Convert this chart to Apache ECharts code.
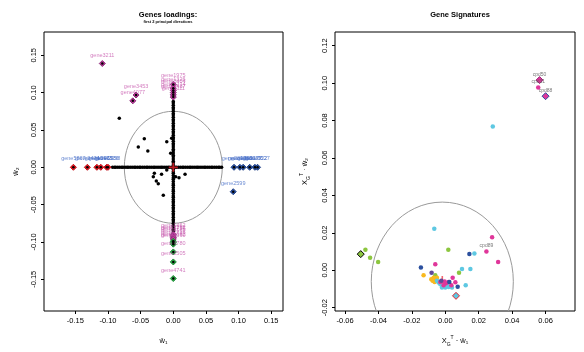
<!DOCTYPE html>
<html><head><meta charset="utf-8">
<script src="https://cdn.jsdelivr.net/npm/echarts@6/dist/echarts.min.js"></script>
<style>html,body{margin:0;padding:0;background:#fff}#c{width:584px;height:352px}</style>
</head><body><div id="c"></div>
<script>
// ---------- tick labels ----------
const leftXTicks = [-0.15, -0.10, -0.05, 0.00, 0.05, 0.10, 0.15];
const leftYTicks = [-0.15, -0.10, -0.05, 0.00, 0.05, 0.10, 0.15];
const rightXTicks = [-0.06, -0.04, -0.02, 0.00, 0.02, 0.04, 0.06];
const rightYTicks = [-0.02, 0.00, 0.02, 0.04, 0.06, 0.08, 0.10, 0.12];

// ---------- left panel: gene loadings ----------
// genes with zero second loading (lying on the horizontal axis): first loading values
const onAxisW1 = [-0.093,-0.090,-0.088,-0.085,-0.082,-0.079,-0.077,-0.074,-0.071,-0.069,-0.066,-0.063,-0.060,-0.058,-0.055,-0.052,-0.050,-0.047,-0.044,-0.041,-0.039,-0.036,-0.033,-0.030,-0.028,-0.025,-0.022,-0.019,-0.017,-0.014,-0.011,-0.008,-0.006,-0.003,0.000,0.003,0.005,0.008,0.011,0.014,0.016,0.019,0.022,0.025,0.027,0.030,0.033,0.036,0.038,0.041,0.044,0.047,0.049,0.052,0.055,0.058,0.060,0.063,0.066,0.069,0.071,0.074];
// genes with zero first loading (lying on the vertical axis): second loading values
const onAxisW2 = [-0.088,-0.085,-0.083,-0.080,-0.078,-0.075,-0.072,-0.070,-0.067,-0.064,-0.062,-0.059,-0.056,-0.054,-0.051,-0.048,-0.046,-0.043,-0.040,-0.038,-0.035,-0.032,-0.030,-0.027,-0.024,-0.022,-0.019,-0.016,-0.014,-0.011,-0.008,-0.006,-0.003,0.003,0.006,0.008,0.011,0.014,0.016,0.019,0.022,0.024,0.027,0.030,0.032,0.035,0.038,0.040,0.043,0.046,0.048,0.051,0.054,0.056,0.059,0.062,0.064,0.067,0.070,0.072,0.075,0.078,0.080,0.083,0.086,0.088];
// genes with both loadings non-zero
const offAxisGenes = [[-0.0827,0.0656],[-0.0444,0.0383],[-0.0536,0.0272],[-0.0390,0.0218],[-0.0100,0.0343],[-0.0040,0.0187],[-0.0025,0.0388],[-0.0290,-0.0080],[-0.0180,-0.0094],[0.0180,-0.0094],[-0.0100,-0.0036],[-0.0306,-0.0126],[-0.0260,-0.0183],[-0.0230,-0.0220],[-0.0153,-0.0375],[0.0087,-0.0139],[0.0036,-0.0126]];

// selected genes (name, w1, w2)
const leftRedNames = ['gene5867','gene3474','gene1547','gene2969','gene1536','gene2058'];
const leftRedW1 = [-0.153,-0.1316,-0.117,-0.111,-0.102,-0.100];
const leftRedW2 = [0,0,0,0,0,0];

const leftBlueNames = ['gene2390','gene1288','gene4530','gene2177','gene3922','gene3527','gene2599'];
const leftBlueW1 = [0.093,0.102,0.107,0.117,0.125,0.129,0.0918];
const leftBlueW2 = [0,0,0,0,0,0,-0.0327];

const leftTopNames = ['gene1975','gene1326','gene2404','gene3214','gene3417','gene1111','gene3211','gene3453','gene4077'];
const leftTopW1 = [0,0,0,0,0,0,-0.1087,-0.057,-0.062];
const leftTopW2 = [0.111,0.106,0.103,0.100,0.097,0.094,0.139,0.0968,0.089];

const leftBottomNames = ['gene1462','gene2192','gene3756','gene4169'];
const leftBottomW1 = [0,0,0,0];
const leftBottomW2 = [-0.090,-0.092,-0.094,-0.096];

const leftGreenNames = ['gene2716','gene1092','gene3360','gene4780','gene2505','gene4741'];
const leftGreenW1 = [0,0,0,0,0,0];
const leftGreenW2 = [-0.099,-0.101,-0.103,-0.1134,-0.1268,-0.149];

const leftCenter = [0, 0];
const leftCircle = [0, 0, 0.075]; // cx, cy, radius

// ---------- right panel: gene signatures ----------
const sigGreen = [[-0.0478,0.0109],[-0.0450,0.0067],[-0.0402,0.0044],[0.0018,0.0109],[0.0082,-0.0014],[-0.0060,-0.0027],[-0.0056,-0.0048]];
const sigCyan = [[0.0284,0.0768],[-0.0066,0.0221],[0.0174,0.0089],[0.0100,0.0007],[0.0150,0.0007],[0.0122,-0.0080],[-0.0040,-0.0066],[-0.0020,-0.0093],[0.0000,-0.0093],[0.0020,-0.0090],[0.0040,-0.0093],[-0.0030,-0.0075],[-0.0050,-0.0057],[0.0010,-0.0077]];
const sigMagenta = [[0.0556,0.0977],[0.0280,0.0176],[0.0246,0.0100],[0.0316,0.0044],[-0.0060,0.0032],[0.0044,-0.0040],[0.0060,-0.0064],[-0.0030,-0.0063],[-0.0010,-0.0080],[0.0004,-0.0070],[0.0020,-0.0063],[0.0036,-0.0080],[-0.0004,-0.0060]];
const sigBlue = [[0.0144,0.0087],[-0.0146,0.0014],[0.0074,-0.0088],[0.0024,-0.0063]];
const sigOrange = [[-0.0130,-0.0027],[-0.0084,-0.0048],[-0.0070,-0.0040],[-0.0064,-0.0063],[-0.0076,-0.0056],[-0.0050,-0.0040]];
const sigPurple = [[-0.0082,-0.0013],[-0.0024,-0.0056]];
// marked signatures
const markGreenBlack = [[-0.0506,0.0086]];
const markCyanRed = [[0.0064,-0.0137]];
const markMagenta = [[0.0564,0.1016]];
const markMagentaBlue = [[0.0600,0.0930]];
// labelled compounds
const cpdNames = ['cpd50','cpd31','cpd88','cpd89'];
const cpdX = [0.0564,0.0556,0.0600,0.0246];
const cpdY = [0.1016,0.0977,0.0930,0.0100];

const rightCenter = [-0.0018, -0.0061];
const rightCircle = [-0.0018, -0.0061, 0.0425];

// ---------- build ----------
const FONT = "'Liberation Sans', Arial, sans-serif";
const plusPath = 'path://M4,0h2v4h4v2h-4v4h-2v-4h-4v-2h4z';
const zip = (n, x, y) => n.map((nm, i) => ({ name: nm, value: [x[i], y[i]] }));

function axisCommon(ticks, rot) {
  return {
    axisLine: { show: false, onZero: false },
    splitLine: { show: false },
    axisTick: { show: true, inside: false, length: 3, lineStyle: { color: '#000' }, customValues: ticks },
    axisLabel: { customValues: ticks, fontSize: 7.5, color: '#000', fontFamily: FONT, rotate: rot || 0, margin: 6,
      formatter: v => v.toFixed(2) }
  };
}

function circleSeries(xi, yi, c) {
  return {
    type: 'custom', xAxisIndex: xi, yAxisIndex: yi, clip: true, silent: true, z: 1,
    data: [c], encode: { x: 0, y: 1 },
    renderItem(params, api) {
      const p = api.coord([api.value(0), api.value(1)]);
      const s = api.size([api.value(2), api.value(2)]);
      return { type: 'ellipse', shape: { cx: p[0], cy: p[1], rx: s[0], ry: s[1] },
        style: { fill: 'none', stroke: '#9a9a9a', lineWidth: 1 } };
    }
  };
}

function dotSeries(xi, yi, data, color, size, z) {
  return { type: 'scatter', xAxisIndex: xi, yAxisIndex: yi, data, symbol: 'circle', symbolSize: size,
    itemStyle: { color, opacity: 1 }, silent: true, z: z || 3 };
}

function markSeries(xi, yi, data, fill, border, size, labelColor, z) {
  return { type: 'scatter', xAxisIndex: xi, yAxisIndex: yi, data, symbol: 'diamond', symbolSize: size,
    itemStyle: { color: fill, borderColor: border, borderWidth: 1, opacity: 1 }, silent: true, z: z || 4,
    label: labelColor ? { show: true, position: 'top', distance: 2, formatter: '{b}', fontSize: 5.5,
      color: labelColor, fontFamily: FONT } : { show: false } };
}

const series = [
  circleSeries(0, 0, leftCircle),
  dotSeries(0, 0, onAxisW1.map(v => [v, 0]), '#000', 3.5),
  dotSeries(0, 0, onAxisW2.map(v => [0, v]), '#000', 3.5),
  dotSeries(0, 0, offAxisGenes, '#000', 3.5),
  markSeries(0, 0, zip(leftRedNames, leftRedW1, leftRedW2), '#ee1c25', '#c01018', 6, 'rgba(70,110,200,0.8)'),
  markSeries(0, 0, zip(leftBlueNames, leftBlueW1, leftBlueW2), '#2e55a6', '#1f3f85', 6, 'rgba(70,110,200,0.8)'),
  markSeries(0, 0, zip(leftTopNames, leftTopW1, leftTopW2), '#c43b9e', '#8a2a78', 6, 'rgba(196,80,170,0.75)'),
  markSeries(0, 0, zip(leftBottomNames, leftBottomW1, leftBottomW2), '#c43b9e', '#8a2a78', 6, 'rgba(196,80,170,0.75)'),
  markSeries(0, 0, zip(leftGreenNames, leftGreenW1, leftGreenW2), '#2fae4a', '#1d8a35', 6, 'rgba(196,80,170,0.75)'),
  dotSeries(0, 0, zip(leftRedNames, leftRedW1, leftRedW2).concat(zip(leftBlueNames, leftBlueW1, leftBlueW2), zip(leftTopNames, leftTopW1, leftTopW2), zip(leftGreenNames, leftGreenW1, leftGreenW2)).map(d => d.value), '#000', 2.5, 5),
  { type: 'scatter', xAxisIndex: 0, yAxisIndex: 0, data: [leftCenter], symbol: plusPath, symbolSize: 9,
    itemStyle: { color: '#e8222a' }, silent: true, z: 6 },

  circleSeries(1, 1, rightCircle),
  { type: 'scatter', xAxisIndex: 1, yAxisIndex: 1, data: [rightCenter], symbol: plusPath, symbolSize: [8, 11],
    itemStyle: { color: '#f0404a' }, silent: true, z: 2 },
  dotSeries(1, 1, sigGreen, '#8cc63f', 4.5),
  dotSeries(1, 1, sigOrange, '#f9b91e', 4.5),
  dotSeries(1, 1, sigCyan, '#5ec8e2', 4.5),
  dotSeries(1, 1, sigMagenta, '#e0369a', 4.5),
  dotSeries(1, 1, sigBlue, '#2b4f9e', 4.5),
  dotSeries(1, 1, sigPurple, '#5f4a98', 4.5),
  markSeries(1, 1, markGreenBlack, '#8cc63f', '#000', 7),
  markSeries(1, 1, markCyanRed, '#5ec8e2', '#e8222a', 7),
  markSeries(1, 1, markMagenta, '#e0369a', '#9a2a7c', 7),
  markSeries(1, 1, markMagentaBlue, '#e0369a', '#2b4f9e', 7),
  { type: 'scatter', xAxisIndex: 1, yAxisIndex: 1, data: zip(cpdNames, cpdX, cpdY), symbolSize: 0, silent: true, z: 7,
    label: { show: true, position: 'top', distance: 3, formatter: '{b}', fontSize: 5, color: '#555', fontFamily: FONT } }
];

const richName = {
  x: { fontSize: 7.5, lineHeight: 12, verticalAlign: 'middle', fontFamily: FONT, color: '#000' },
  sub: { fontSize: 5, lineHeight: 12, verticalAlign: 'bottom', fontFamily: FONT, color: '#000' },
  sup: { fontSize: 5, lineHeight: 12, verticalAlign: 'top', fontFamily: FONT, color: '#000' }
};

const chart = echarts.init(document.getElementById('c'), null, { renderer: 'canvas' });
chart.setOption({
  animation: false,
  backgroundColor: '#fff',
  title: [
    { text: 'Genes loadings:', subtext: 'first 2 principal directions', left: 163, top: 6, textAlign: 'center', itemGap: 1,
      textStyle: { fontSize: 7.5, fontWeight: 'bold', color: '#000', fontFamily: FONT },
      subtextStyle: { fontSize: 4, fontWeight: 'bold', color: '#000', fontFamily: FONT } },
    { text: 'Gene Signatures', left: 455, top: 6, textAlign: 'center',
      textStyle: { fontSize: 7.5, fontWeight: 'bold', color: '#000', fontFamily: FONT } }
  ],
  grid: [
    { left: 44, top: 32, width: 239, height: 279, show: true, borderColor: '#000', borderWidth: 1, backgroundColor: 'transparent' },
    { left: 335, top: 32, width: 240, height: 279, show: true, borderColor: '#000', borderWidth: 1, backgroundColor: 'transparent' }
  ],
  xAxis: [
    Object.assign({ type: 'value', gridIndex: 0, min: -0.198, max: 0.168,
      name: 'ŵ₁', nameLocation: 'middle', nameGap: 26,
      nameTextStyle: { fontSize: 7.5, color: '#000', fontFamily: FONT } }, axisCommon(leftXTicks)),
    Object.assign({ type: 'value', gridIndex: 1, min: -0.066, max: 0.0776,
      name: '{x|X}{sub|G}{sup|T}{x| · ŵ₁}', nameLocation: 'middle', nameGap: 24,
      nameTextStyle: { fontSize: 7.5, color: '#000', fontFamily: FONT, rich: richName } }, axisCommon(rightXTicks))
  ],
  yAxis: [
    Object.assign({ type: 'value', gridIndex: 0, min: -0.1925, max: 0.1812,
      name: 'ŵ₂', nameLocation: 'middle', nameGap: 24, nameRotate: 90,
      nameTextStyle: { fontSize: 7.5, color: '#000', fontFamily: FONT } }, axisCommon(leftYTicks, 90)),
    Object.assign({ type: 'value', gridIndex: 1, min: -0.0218, max: 0.1273,
      name: '{x|X}{sub|G}{sup|T}{x| · ŵ₂}', nameLocation: 'middle', nameGap: 24, nameRotate: 90,
      nameTextStyle: { fontSize: 7.5, color: '#000', fontFamily: FONT, rich: richName } }, axisCommon(rightYTicks, 90))
  ],
  series
});
</script>
</body></html>
